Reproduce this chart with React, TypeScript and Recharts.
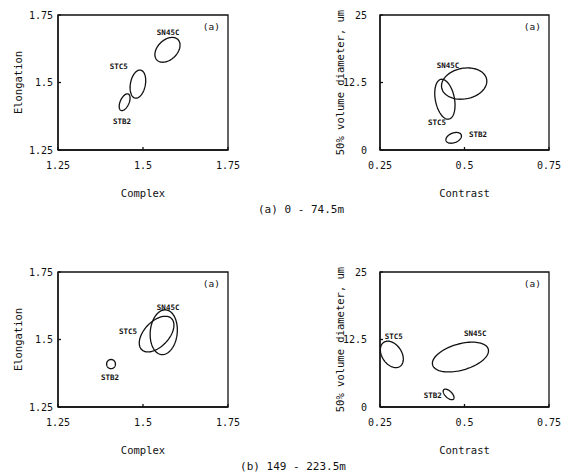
import { ComposedChart, Line, ReferenceArea, Scatter, XAxis, YAxis } from "recharts";

const FONT = '"DejaVu Sans Mono", "Liberation Mono", monospace';
const INK = "#111";

const GROUPS = ["SN45C", "STC5", "STB2"];

// ellipses: centre, half extent on each axis, correlation (tilt)
// (a) 0 - 74.5m, Complex vs Elongation
const aLeftCx = [1.572, 1.485, 1.446];
const aLeftCy = [1.621, 1.494, 1.427];
const aLeftSx = [0.037, 0.023, 0.016];
const aLeftSy = [0.046, 0.052, 0.031];
const aLeftRho = [0.38, 0.25, 0.5];
const aLeftTagX = [1.574, 1.429, 1.438];
const aLeftTagY = [1.687, 1.561, 1.354];

// (a) 0 - 74.5m, Contrast vs 50% volume diameter
const aRightCx = [0.499, 0.442, 0.468];
const aRightCy = [12.3, 9.4, 2.25];
const aRightSx = [0.067, 0.03, 0.023];
const aRightSy = [2.9, 3.7, 1.0];
const aRightRho = [0.15, -0.3, 0.35];
const aRightTagX = [0.451, 0.419, 0.54];
const aRightTagY = [15.6, 5.15, 2.9];

// (b) 149 - 223.5m, Complex vs Elongation
const bLeftCx = [1.561, 1.54, 1.406];
const bLeftCy = [1.527, 1.52, 1.409];
const bLeftSx = [0.04, 0.051, 0.013];
const bLeftSy = [0.083, 0.066, 0.017];
const bLeftRho = [0.1, 0.5, 0];
const bLeftTagX = [1.574, 1.456, 1.403];
const bLeftTagY = [1.62, 1.531, 1.36];

// (b) 149 - 223.5m, Contrast vs 50% volume diameter
const bRightCx = [0.488, 0.285, 0.453];
const bRightCy = [9.25, 9.74, 2.33];
const bRightSx = [0.083, 0.034, 0.016];
const bRightSy = [2.76, 2.45, 0.98];
const bRightRho = [0.42, -0.35, -0.6];
const bRightTagX = [0.532, 0.291, 0.406];
const bRightTagY = [13.6, 13.05, 2.2];

const complexTicks = [1.25, 1.5, 1.75];
const elongTicks = [1.25, 1.5, 1.75];
const contrastTicks = [0.25, 0.5, 0.75];
const diamTicks = [0, 12.5, 25];

function outline(cx: number, cy: number, sx: number, sy: number, rho: number) {
  const pts = [];
  const s = Math.sqrt(1 - rho * rho);
  for (let i = 0; i <= 90; i++) {
    const t = (i / 90) * Math.PI * 2;
    pts.push({ x: cx + sx * Math.cos(t), y: cy + sy * (rho * Math.cos(t) + s * Math.sin(t)) });
  }
  return pts;
}

type PanelProps = {
  left: number;
  top: number;
  width: number;
  yAxisWidth: number;
  yTickMargin: number;
  yTitleX: number;
  xTicks: number[];
  yTicks: number[];
  xTitle: string;
  yTitle: string;
  cx: number[];
  cy: number[];
  sx: number[];
  sy: number[];
  rho: number[];
  tagX: number[];
  tagY: number[];
};

function Panel(p: PanelProps) {
  const xDom = [p.xTicks[0], p.xTicks[p.xTicks.length - 1]];
  const yDom = [p.yTicks[0], p.yTicks[p.yTicks.length - 1]];
  const tags = GROUPS.map((name, i) => ({ x: p.tagX[i], y: p.tagY[i], name }));
  const tick = { fontSize: 10, fill: INK, fontFamily: FONT };

  return (
    <div style={{ position: "absolute", left: p.left, top: p.top }}>
      <ComposedChart
        width={p.width}
        height={210}
        margin={{ top: 15, right: 22, bottom: 0, left: 0 }}
      >
        <XAxis
          type="number"
          dataKey="x"
          domain={xDom}
          ticks={p.xTicks}
          allowDataOverflow
          height={60}
          tickSize={-3}
          tickMargin={15}
          tick={tick}
          stroke={INK}
          strokeWidth={1.3}
          label={{
            value: p.xTitle,
            position: "insideBottom",
            offset: 13,
            style: { fontSize: 10.5, fill: INK, fontFamily: FONT },
          }}
        />
        <YAxis
          type="number"
          dataKey="y"
          domain={yDom}
          ticks={p.yTicks}
          allowDataOverflow
          width={p.yAxisWidth}
          tickSize={-3}
          tickMargin={p.yTickMargin}
          tick={tick}
          stroke={INK}
          strokeWidth={1.3}
          label={{
            value: p.yTitle,
            angle: -90,
            position: "insideLeft",
            offset: p.yTitleX,
            style: { fontSize: 10.5, fill: INK, fontFamily: FONT, textAnchor: "middle" },
          }}
        />
        <ReferenceArea
          x1={xDom[0]}
          x2={xDom[1]}
          y1={yDom[0]}
          y2={yDom[1]}
          fill="none"
          fillOpacity={0}
          stroke={INK}
          strokeWidth={1.3}
          label={{
            value: "(a)",
            position: "insideTopRight",
            offset: 8,
            style: { fontSize: 9.5, fill: INK, fontFamily: FONT },
          }}
        />
        {GROUPS.map((g, i) => (
          <Line
            key={g}
            data={outline(p.cx[i], p.cy[i], p.sx[i], p.sy[i], p.rho[i])}
            dataKey="y"
            type="linear"
            stroke={INK}
            strokeWidth={1.3}
            dot={false}
            activeDot={false}
            isAnimationActive={false}
          />
        ))}
        <Scatter
          data={tags}
          dataKey="y"
          isAnimationActive={false}
          shape={(s: any) => (
            <text
              x={s.cx}
              y={s.cy}
              textAnchor="middle"
              dominantBaseline="central"
              fontSize={7.5}
              fontWeight="bold"
              fontFamily={FONT}
              fill={INK}
            >
              {s.payload.name}
            </text>
          )}
        />
      </ComposedChart>
    </div>
  );
}

const captionStyle = {
  position: "absolute" as const,
  width: 200,
  textAlign: "center" as const,
  fontFamily: FONT,
  fontSize: 11,
  lineHeight: "14px",
  color: INK,
  whiteSpace: "pre" as const,
};

export default function App() {
  return (
    <div
      style={{
        position: "absolute",
        left: 0,
        top: 0,
        width: 571,
        height: 475,
        background: "#fff",
        overflow: "hidden",
      }}
    >
      <Panel
        left={0}
        top={0}
        width={250}
        yAxisWidth={58}
        yTickMargin={8}
        yTitleX={18}
        xTicks={complexTicks}
        yTicks={elongTicks}
        xTitle="Complex"
        yTitle="Elongation"
        cx={aLeftCx}
        cy={aLeftCy}
        sx={aLeftSx}
        sy={aLeftSy}
        rho={aLeftRho}
        tagX={aLeftTagX}
        tagY={aLeftTagY}
      />
      <Panel
        left={280}
        top={0}
        width={291}
        yAxisWidth={100}
        yTickMargin={16}
        yTitleX={60}
        xTicks={contrastTicks}
        yTicks={diamTicks}
        xTitle="Contrast"
        yTitle="50% volume diameter, um"
        cx={aRightCx}
        cy={aRightCy}
        sx={aRightSx}
        sy={aRightSy}
        rho={aRightRho}
        tagX={aRightTagX}
        tagY={aRightTagY}
      />
      <Panel
        left={0}
        top={257}
        width={250}
        yAxisWidth={58}
        yTickMargin={8}
        yTitleX={18}
        xTicks={complexTicks}
        yTicks={elongTicks}
        xTitle="Complex"
        yTitle="Elongation"
        cx={bLeftCx}
        cy={bLeftCy}
        sx={bLeftSx}
        sy={bLeftSy}
        rho={bLeftRho}
        tagX={bLeftTagX}
        tagY={bLeftTagY}
      />
      <Panel
        left={280}
        top={257}
        width={291}
        yAxisWidth={100}
        yTickMargin={16}
        yTitleX={60}
        xTicks={contrastTicks}
        yTicks={diamTicks}
        xTitle="Contrast"
        yTitle="50% volume diameter, um"
        cx={bRightCx}
        cy={bRightCy}
        sx={bRightSx}
        sy={bRightSy}
        rho={bRightRho}
        tagX={bRightTagX}
        tagY={bRightTagY}
      />
      <div style={{ ...captionStyle, left: 201, top: 203 }}>(a) 0 - 74.5m</div>
      <div style={{ ...captionStyle, left: 193, top: 460 }}>(b) 149 - 223.5m</div>
    </div>
  );
}
